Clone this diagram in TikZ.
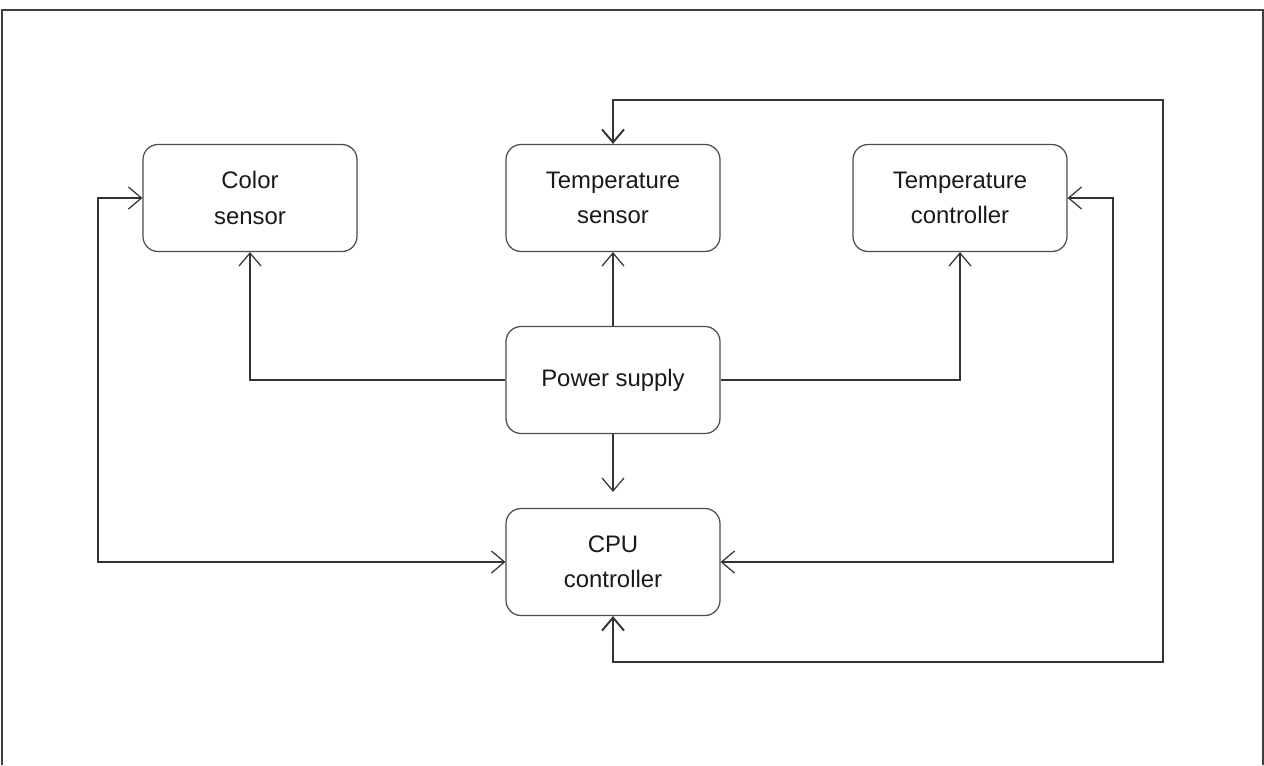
\documentclass[tikz,border=0pt]{standalone}
\usepackage{fontspec}
\setmainfont{Liberation Sans}
\usetikzlibrary{arrows.meta}

\begin{document}
\begin{tikzpicture}[
        x=0.02cm,y=-0.02cm,
        blok/.style={draw=black!70,rounded corners=0.3cm,minimum width=4.28cm,minimum height=2.14cm,
            align=center,font=\fontsize{13.6}{20}\selectfont,text=black!90},
        >={Straight Barb[length=2.6mm,width=4.4mm]},
        line width=0.7pt,draw=black!80
    ]
        \useasboundingbox (0,0) rectangle (1264,765);
        \draw[black!75,line width=1pt] (2,765) -- (2,10) -- (1263,10) -- (1263,765);

        \node[blok] (color) at (250,198) {Color\\sensor};
        \node[blok] (tsens) at (613,198) {Temperature\\sensor};
        \node[blok] (tctrl) at (960,198) {Temperature\\controller};
        \node[blok] (power) at (613,380) {Power supply};
        \node[blok] (cpu) at (613,562) {CPU\\controller};

        \coordinate (lft) at (98,380);
        \coordinate (rgt) at (1113,380);
        \coordinate (otop) at (1163,100);
        \coordinate (obot) at (1163,662);

        \draw[->] (power.west) -| (color.south);
        \draw[->] (power.east) -| (tctrl.south);
        \draw[->] (power.north) -- (tsens.south);
        \draw[->,shorten >=0.32cm] (power.south) -- (cpu.north);
        \draw[<->] (color.west) -| (lft) |- (cpu.west);
        \draw[<->] (tctrl.east) -| (rgt) |- (cpu.east);
        \draw[<->,line width=1.1pt] (tsens.north) |- (otop) -- (obot) -| (cpu.south);
    \end{tikzpicture}
\end{document}
